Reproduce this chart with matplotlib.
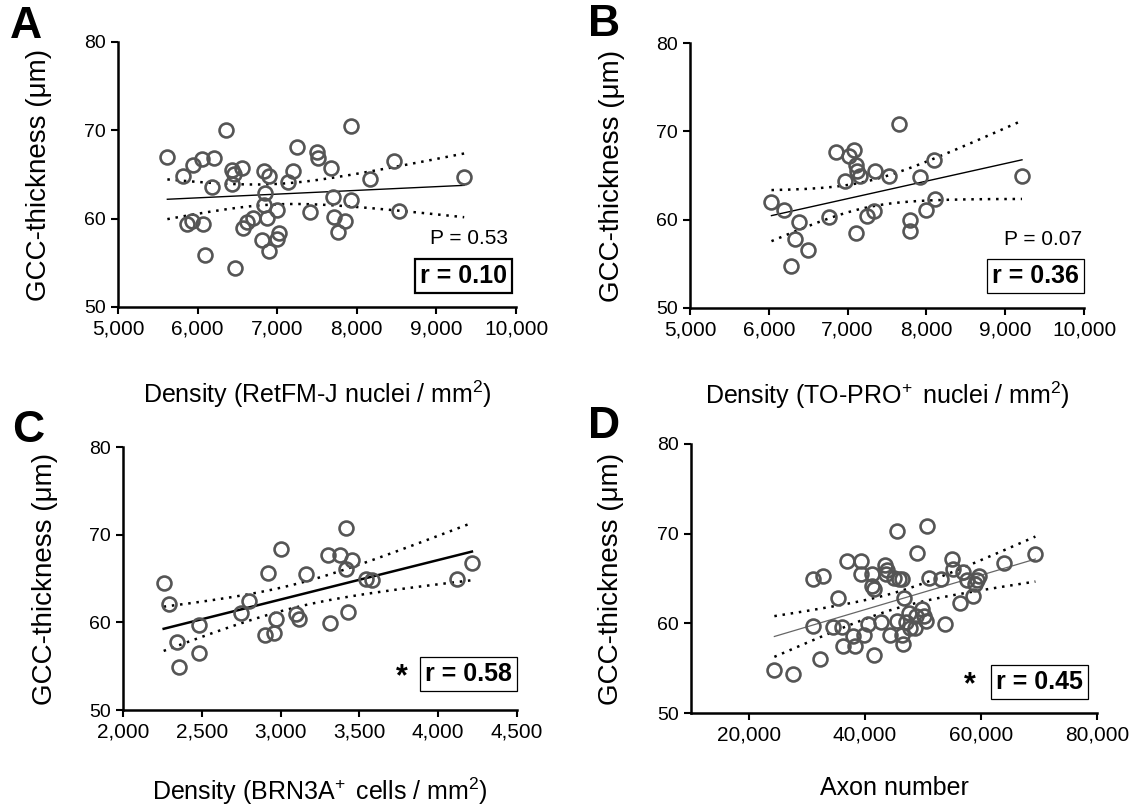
import numpy as np
import matplotlib
matplotlib.use("Agg")
import matplotlib.pyplot as plt
from matplotlib.ticker import FuncFormatter

plt.rcParams['font.family'] = ['Liberation Sans', 'DejaVu Sans']
plt.rcParams['mathtext.fontset'] = 'custom'
plt.rcParams['mathtext.rm'] = 'Liberation Sans'
plt.rcParams['mathtext.it'] = 'Liberation Sans:italic'
plt.rcParams['mathtext.bf'] = 'Liberation Sans:bold'

# panel A: RetFM-J nuclei density vs GCC thickness
a_x = [5620, 5819, 5945, 6050, 6210, 6353, 6185, 6429, 6462, 6555, 6429, 5861, 5924, 6071,
       6092, 6471, 6576, 6618, 6702, 6828, 6899, 6849, 6828, 6870, 6996, 6815, 6891, 6996,
       7025, 7130, 7193, 7248, 7416, 7500, 7513, 7681, 7697, 7710, 7765, 7849, 7924, 7933,
       8160, 8466, 8529, 9349]
a_y = [67.0, 64.8, 66.1, 66.8, 66.9, 70.0, 63.6, 65.5, 65.1, 65.7, 63.9, 59.4, 59.7, 59.4,
       55.9, 54.4, 58.9, 59.6, 60.1, 65.4, 64.8, 62.9, 61.6, 60.1, 61.0, 57.6, 56.3, 57.7,
       58.4, 64.2, 65.4, 68.1, 60.7, 67.5, 66.9, 65.7, 62.5, 60.2, 58.5, 59.7, 62.1, 70.5,
       64.5, 66.5, 60.9, 64.7]

# panel B: TO-PRO+ nuclei density
b_x = [6034, 6196, 6387, 6332, 6502, 6277, 6770, 6855, 6970, 7013, 7085, 7111, 7119, 7162,
       7111, 7247, 7340, 7353, 7523, 7651, 7791, 7787, 7919, 7991, 8098, 8106, 9213]
b_y = [62.0, 61.1, 59.7, 57.8, 56.6, 54.7, 60.3, 67.7, 64.4, 67.2, 67.9, 66.2, 65.5, 65.0,
       58.5, 60.4, 61.0, 65.5, 65.0, 70.8, 60.0, 58.7, 64.8, 61.1, 66.8, 62.3, 65.0]

# panel C: BRN3A+ cell density
c_x = [2258, 2292, 2345, 2355, 2482, 2482, 2751, 2799, 2899, 2920, 2956, 2969, 3000, 3100,
       3115, 3159, 3301, 3311, 3375, 3413, 3417, 3453, 3428, 3544, 3582, 4121, 4214]
c_y = [64.5, 62.1, 57.8, 54.9, 59.7, 56.5, 61.1, 62.4, 58.6, 65.6, 58.8, 60.4, 68.4, 60.9,
       60.4, 65.5, 67.7, 59.9, 67.7, 70.8, 66.1, 67.1, 61.2, 64.9, 64.8, 64.9, 66.8]

# panel D: axon number
d_x = [24374, 27539, 32258, 30992, 31107, 32719, 35423, 34560, 36000, 36172, 36862, 38300,
       37898, 39337, 39337, 39912, 40488, 41178, 41178, 41466, 41581, 42790, 43366, 43768,
       43596, 44344, 44919, 45495, 45495, 45783, 46358, 46646, 46358, 46473, 47106, 47509,
       47796, 48660, 48947, 48775, 49810, 50098, 50558, 50673, 51076, 53090, 53839, 54990,
       55105, 56429, 56831, 57580, 58616, 59018, 59306, 59708, 63910, 69378]
d_y = [54.75, 54.4, 56.0, 59.7, 65.0, 65.3, 62.8, 59.6, 59.6, 57.5, 67.0, 57.5, 58.6, 67.0,
       65.5, 58.7, 59.9, 65.5, 64.2, 63.8, 56.5, 60.1, 66.5, 65.9, 65.5, 58.7, 65.1, 70.3,
       60.3, 64.9, 64.9, 62.8, 58.7, 57.7, 60.2, 61.2, 59.5, 59.5, 67.8, 60.8, 61.6, 60.8,
       60.3, 70.8, 65.1, 64.9, 59.9, 67.2, 66.1, 62.3, 65.7, 64.8, 63.1, 64.4, 64.8, 65.3,
       66.7, 67.7]

letters = ['A', 'B', 'C', 'D']
x_labels = ['Density (RetFM-J nuclei / mm$^2$)', r'Density (TO-PRO$^{\!+}$ nuclei / mm$^2$)',
            r'Density (BRN3A$^{\!+}$ cells / mm$^2$)', 'Axon number']
y_label = 'GCC-thickness (\u03bcm)'
r_texts = ['r = 0.10', 'r = 0.36', 'r = 0.58', 'r = 0.45']
p_texts = ['P = 0.53', 'P = 0.07', None, None]
star = [False, False, True, True]


def t975(df):
    # Cornish-Fisher approximation of the 97.5% t quantile
    z = 1.959964
    return z + (z**3 + z) / (4 * df) + (5 * z**5 + 16 * z**3 + 3 * z) / (96 * df**2)


def fit_band(x, y):
    x = np.asarray(x, float)
    y = np.asarray(y, float)
    n = len(x)
    slope, icpt = np.polyfit(x, y, 1)
    xs = np.linspace(x.min(), x.max(), 200)
    yh = icpt + slope * xs
    s = np.sqrt(np.sum((y - (icpt + slope * x))**2) / (n - 2))
    sxx = np.sum((x - x.mean())**2)
    half = t975(n - 2) * s * np.sqrt(1.0 / n + (xs - x.mean())**2 / sxx)
    return xs, yh, yh - half, yh + half


W, H = 1132, 807
fig = plt.figure(figsize=(W / 100, H / 100), dpi=100)


def px_rect(left, right, top, bottom):
    return [left / W, 1 - bottom / H, (right - left) / W, (bottom - top) / H]


rects = [px_rect(118, 516, 42, 307), px_rect(690, 1084, 43, 308),
         px_rect(123, 517, 447, 710), px_rect(691, 1097, 444, 713)]
xlims = [(5000, 10000), (5000, 10000), (2000, 4500), (10000, 80000)]
xticks = [np.arange(5000, 10001, 1000), np.arange(5000, 10001, 1000),
          np.arange(2000, 4501, 500), np.arange(20000, 80001, 20000)]
datasets = [(a_x, a_y), (b_x, b_y), (c_x, c_y), (d_x, d_y)]
fit_style = [dict(color='black', lw=1.0), dict(color='black', lw=1.0),
             dict(color='black', lw=1.8), dict(color='#666666', lw=0.9)]
letter_pos = [(26, 26), (604, 24), (28, 431), (604, 427)]
box_pos = [(0.867, 0.117), (0.878, 0.119), (0.876, 0.137), (0.858, 0.117)]
box_lw = [1.6, 0.9, 0.9, 0.9]
p_pos = [(0.98, 0.257), (0.995, 0.26), None, None]
star_pos = [None, None, (0.708, 0.125), (0.687, 0.105)]
xlabel_y = [-0.27, -0.27, -0.25, -0.235]

for i in range(4):
    ax = fig.add_axes(rects[i])
    x, y = datasets[i]
    xs, yh, lo, hi = fit_band(x, y)
    ax.plot(xs, lo, color='black', lw=1.8, ls=(0, (1, 2.3)))
    ax.plot(xs, hi, color='black', lw=1.8, ls=(0, (1, 2.3)))
    ax.plot(xs, yh, **fit_style[i])
    ax.plot(x, y, 'o', ms=10, mfc='none', mec='#555555', mew=1.9, zorder=3, clip_on=False)

    ax.set_xlim(*xlims[i])
    ax.set_ylim(50, 80)
    ax.set_xticks(xticks[i])
    ax.set_yticks([50, 60, 70, 80])
    ax.xaxis.set_major_formatter(FuncFormatter(lambda v, p: f'{int(v):,}'))
    for s in ['top', 'right']:
        ax.spines[s].set_visible(False)
    for s in ['left', 'bottom']:
        ax.spines[s].set_linewidth(1.8)
    ax.tick_params(axis='both', direction='out', length=5, width=1.5)
    ax.tick_params(axis='x', labelsize=15, pad=4)
    ax.tick_params(axis='y', labelsize=14, pad=3.5)

    ax.set_xlabel(x_labels[i], fontsize=18)
    ax.xaxis.set_label_coords(0.5, xlabel_y[i])
    ax.set_ylabel(y_label, fontsize=20)
    ax.yaxis.set_label_coords(-0.165, 0.5)

    ax.text(box_pos[i][0], box_pos[i][1], r_texts[i], transform=ax.transAxes,
            ha='center', va='center', fontsize=18, fontweight='bold',
            bbox=dict(boxstyle='square,pad=0.2', fc='white', ec='black', lw=box_lw[i]))
    if p_texts[i]:
        ax.text(p_pos[i][0], p_pos[i][1], p_texts[i], transform=ax.transAxes,
                ha='right', va='center', fontsize=15)
    if star[i]:
        ax.text(star_pos[i][0], star_pos[i][1], '*', transform=ax.transAxes,
                ha='center', va='center', fontsize=22, fontweight='bold')

    fig.text(letter_pos[i][0] / W, 1 - letter_pos[i][1] / H, letters[i],
             ha='center', va='center', fontsize=32, fontweight='bold')

fig.savefig('out.png', dpi=100)
